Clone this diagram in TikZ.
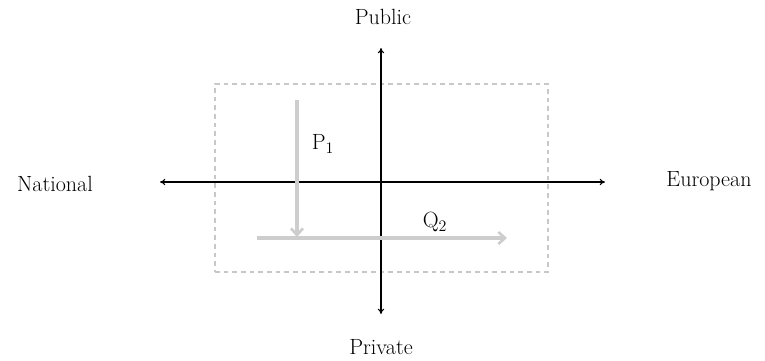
\documentclass[tikz,border=0pt]{standalone}
\usetikzlibrary{arrows.meta}
\definecolor{flowgray}{RGB}{205,205,205}
\definecolor{boxgray}{RGB}{200,200,200}
\begin{document}
\begin{tikzpicture}[x=0.75pt,y=-0.75pt,
  axis/.style={draw=black,line width=0.8pt,{To[length=4pt,width=5pt]}-{To[length=4pt,width=5pt]}},
  flow/.style={draw=flowgray,line width=2.6pt,-{Straight Barb[length=5pt,width=9pt,line width=2pt]}},
  lab/.style={font=\fontsize{16.5}{20}\selectfont,inner sep=1pt},
  sublab/.style={font=\fontsize{16.5}{20}\selectfont,inner sep=1pt}]
\useasboundingbox (0,0) rectangle (765,361);
% dashed frame
\node[draw=boxgray,dashed,line width=0.8pt,dash pattern=on 3.5pt off 3pt,minimum width=333*0.75pt,minimum height=188*0.75pt,inner sep=0pt] (frame) at (381.5,178) {};
% axis ends
\coordinate (left) at (160,182);
\coordinate (right) at (605,182);
\coordinate (top) at (381,48);
\coordinate (bottom) at (381,314);
\draw[axis] (left) -- (right);
\draw[axis] (top) -- (bottom);
% labels
\node[lab] (pub) at (383,17) {Public};
\node[lab] (priv) at (381,347) {Private};
\node[lab] (nat) at (55,184) {National};
\node[lab] (eur) at (709,181) {European};
% flows
\coordinate (ps) at (297,100);
\coordinate (pe) at (297,237);
\coordinate (qs) at (257,238);
\coordinate (qe) at (507,238);
\draw[flow] (ps) -- (pe);
\draw[flow] (qs) -- (qe);
\node[sublab] (p1) at (323,144) {P$_1$};
\node[sublab] (q2) at (435,222) {Q$_2$};
\end{tikzpicture}
\end{document}
